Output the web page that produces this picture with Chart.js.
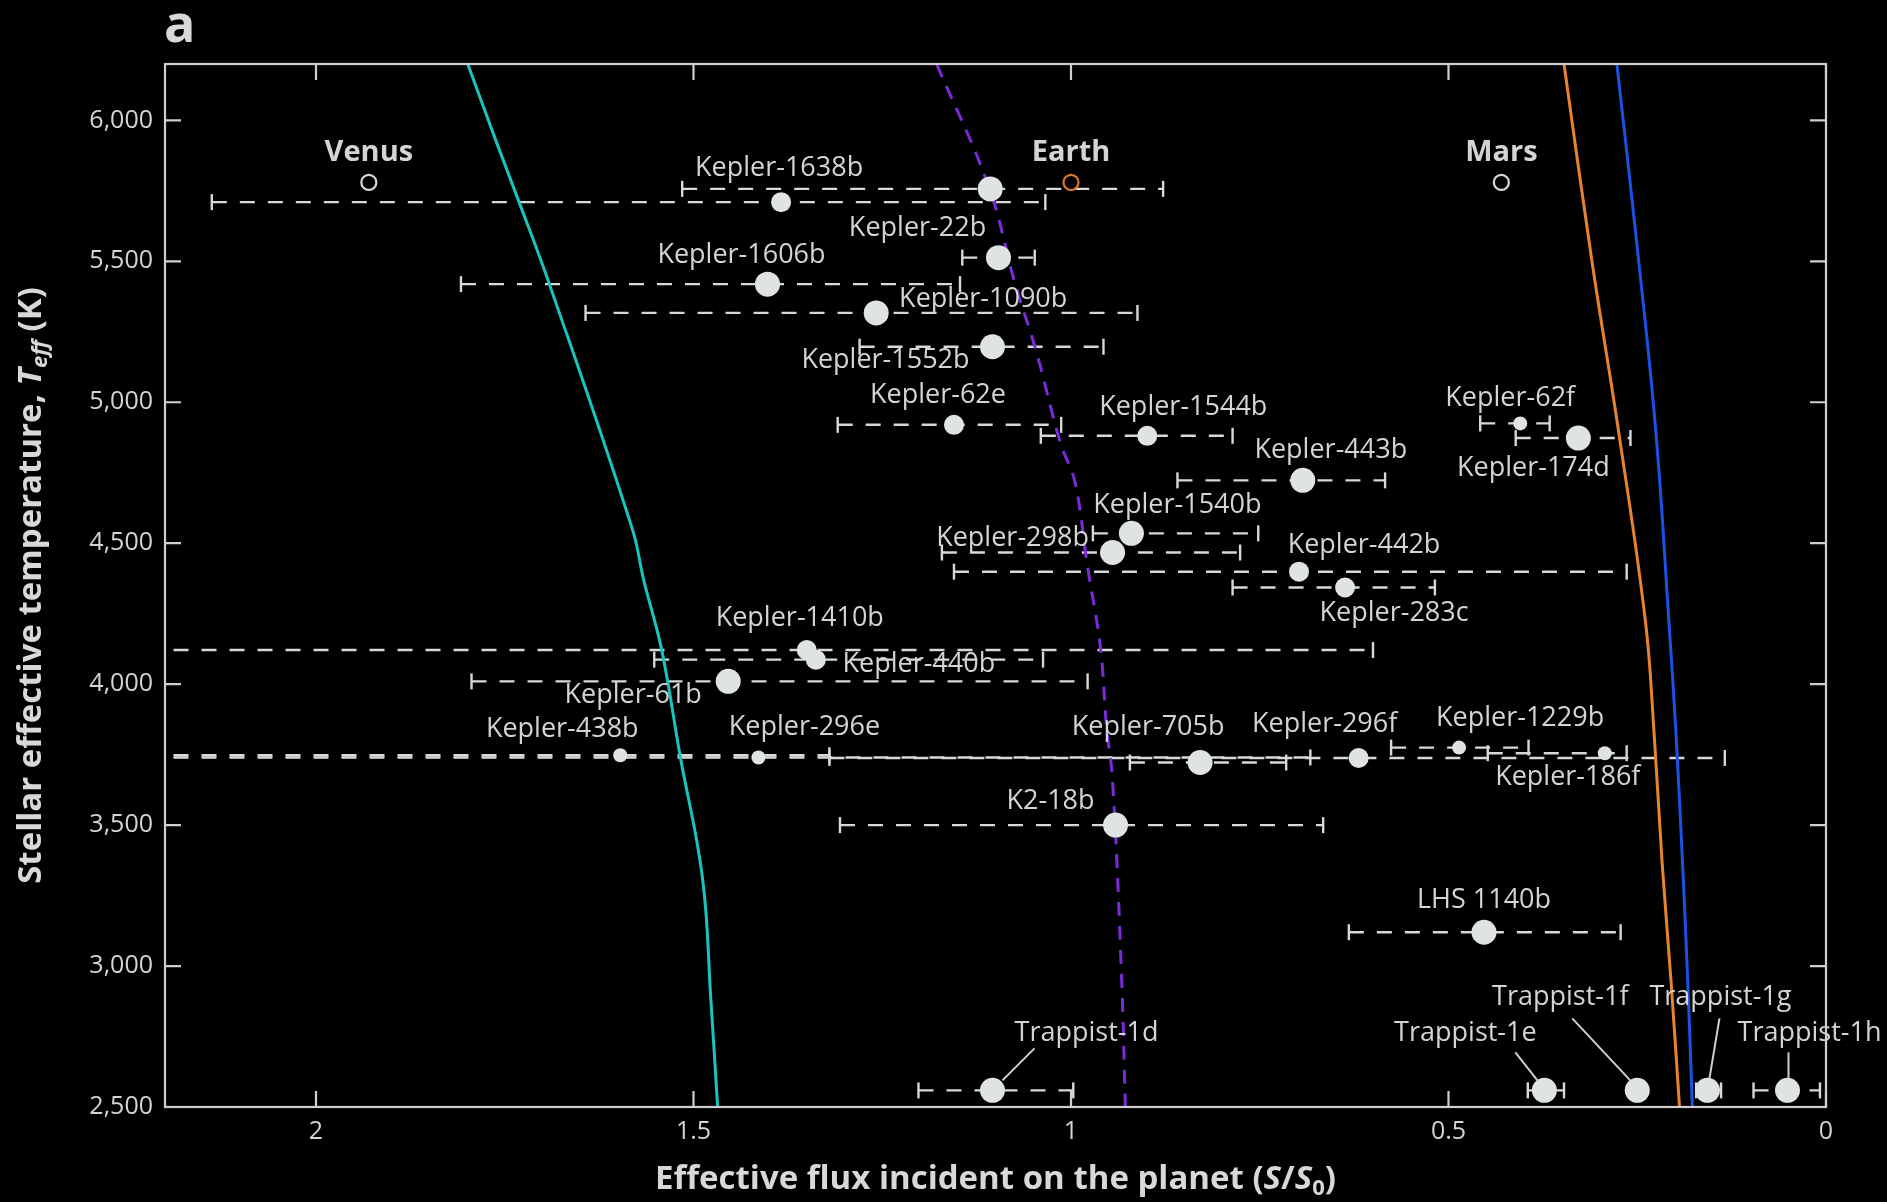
<!DOCTYPE html>
<html>
<head>
<meta charset="utf-8">
<script src="https://cdn.jsdelivr.net/npm/chart.js@4.4.1/dist/chart.umd.min.js"></script>
<style>
  html, body { margin: 0; padding: 0; background: #000; }
  #wrap { width: 1887px; height: 1202px; position: relative; }
</style>
</head>
<body>
<div id="wrap"><canvas id="hzChart"></canvas></div>
<script>
'use strict';

/* ── Data ────────────────────────────────────────────────────────────────── */

// habitable-zone limits: stellar Teff (K) vs effective flux S/S0
const recentVenusT = [6200, 5930, 5710, 5420, 4550, 4370, 4120, 3750, 3310, 2880, 2500];
const recentVenusS = [1.799, 1.762, 1.731, 1.691, 1.581, 1.566, 1.542, 1.518, 1.488, 1.477, 1.468];

const runawayT = [6200, 5765, 5420, 5180, 4855, 4720, 4415, 4130, 3850, 3660, 2960, 2500];
const runawayS = [1.178, 1.109, 1.074, 1.046, 1.014, 0.995, 0.978, 0.961, 0.953, 0.945, 0.933, 0.928];

const maxGreenhouseT = [6200, 5500, 4884, 4219, 3839, 3364, 2937, 2500];
const maxGreenhouseS = [0.347, 0.310, 0.274, 0.239, 0.228, 0.217, 0.205, 0.194];

const earlyMarsT = [6200, 5500, 4884, 4219, 3839, 3364, 2937, 2500];
const earlyMarsS = [0.277, 0.248, 0.225, 0.208, 0.199, 0.190, 0.183, 0.177];

// exoplanets
const planetNames = [
    'Kepler-1638b', '', 'Kepler-22b', 'Kepler-1606b', 'Kepler-1090b', 'Kepler-1552b',
    'Kepler-62e', 'Kepler-1544b', 'Kepler-443b', 'Kepler-62f', 'Kepler-174d',
    'Kepler-1540b', 'Kepler-298b', 'Kepler-442b', 'Kepler-283c', 'Kepler-1410b',
    'Kepler-440b', 'Kepler-61b', 'Kepler-438b', 'Kepler-296e', 'Kepler-705b',
    'Kepler-296f', 'Kepler-1229b', 'Kepler-186f', 'K2-18b', 'LHS 1140b',
    'Trappist-1d', 'Trappist-1e', 'Trappist-1f', 'Trappist-1g', 'Trappist-1h',
];
const planetFlux = [
    1.384, 1.107, 1.096, 1.402, 1.258, 1.104,
    1.155, 0.899, 0.693, 0.405, 0.328,
    0.920, 0.945, 0.698, 0.637, 1.350,
    1.338, 1.454, 1.597, 1.414, 0.829,
    0.619, 0.486, 0.293, 0.941, 0.453,
    1.104, 0.373, 0.250, 0.157, 0.051,
];
const planetTeff = [
    5710, 5757, 5513, 5419, 5317, 5197,
    4920, 4881, 4723, 4925, 4873,
    4535, 4467, 4399, 4343, 4121,
    4087, 4010, 3748, 3740, 3722,
    3738, 3775, 3755, 3500, 3120,
    2559, 2559, 2559, 2559, 2559,
];
// error bar ends (upper flux / lower flux)
const fluxErrHigh = [
    2.138, 1.515, 1.144, 1.808, 1.643, 1.280,
    1.309, 1.040, 0.859, 0.458, 0.411,
    0.971, 1.171, 1.155, 0.786, 2.300,
    1.552, 1.794, 2.300, 2.300, 0.922,
    1.320, 0.576, 0.448, 1.306, 0.632,
    1.202, 0.395, null, 0.172, 0.096,
];
const fluxErrLow = [
    1.034, 0.878, 1.048, 1.147, 0.912, 0.957,
    1.013, 0.786, 0.584, 0.366, 0.259,
    0.752, 0.776, 0.264, 0.518, 0.600,
    1.037, 0.978, 1.320, 0.683, 0.715,
    0.134, 0.394, 0.264, 0.666, 0.272,
    0.997, 0.347, null, 0.139, 0.008,
];
const planetSize = [
    'M', 'L', 'L', 'L', 'L', 'L',
    'M', 'M', 'L', 'S', 'L',
    'L', 'L', 'M', 'M', 'M',
    'M', 'L', 'S', 'S', 'L',
    'M', 'S', 'S', 'L', 'L',
    'L', 'L', 'L', 'L', 'L',
];

// solar system
const solarNames = ['Venus', 'Earth', 'Mars'];
const solarFlux = [1.93, 1.0, 0.43];
const solarTeff = [5780, 5780, 5780];

// tick values
const xTickValues = [0, 0.5, 1, 1.5, 2];
const yTickValues = [2500, 3000, 3500, 4000, 4500, 5000, 5500, 6000];

/* ── Styling ─────────────────────────────────────────────────────────────── */

const FONT = "'Open Sans', 'DejaVu Sans', sans-serif";
const FG = '#d4d4d4';
const MARKER = '#dfe3e3';
const RADIUS = { S: 7, M: 10, L: 12.5 };

// label offsets in px from the marker: [dx, dy, leader?]
const labelOffset = {
    'Kepler-1638b': [-2, -34], 'Kepler-22b': [-81, -29], 'Kepler-1606b': [-26, -29],
    'Kepler-1090b': [107, -14], 'Kepler-1552b': [-107, 14], 'Kepler-62e': [-16, -30],
    'Kepler-1544b': [36, -29], 'Kepler-443b': [28, -30], 'Kepler-62f': [-10, -25],
    'Kepler-174d': [-45, 30], 'Kepler-1540b': [46, -28], 'Kepler-298b': [-100, -14],
    'Kepler-442b': [65, -26], 'Kepler-283c': [49, 26], 'Kepler-1410b': [-7, -32],
    'Kepler-440b': [103, 5], 'Kepler-61b': [-95, 14], 'Kepler-438b': [-58, -26],
    'Kepler-296e': [46, -30], 'Kepler-705b': [-52, -35], 'Kepler-296f': [-34, -34],
    'Kepler-1229b': [61, -29], 'Kepler-186f': [-37, 24], 'K2-18b': [-65, -24],
    'LHS 1140b': [0, -32],
    'Trappist-1d': [94, -57, [10, -10, 42, -42]],
    'Trappist-1e': [-79, -57, [-29, -38, -7, -10]],
    'Trappist-1f': [-77, -93, [-65, -72, -7, -10]],
    'Trappist-1g': [13, -93, [12, -72, 2, -12]],
    'Trappist-1h': [22, -57, [1, -38, 1, -12]],
};

/* ── Plugins ─────────────────────────────────────────────────────────────── */

const errorBarPlugin = {
    id: 'errorBars',
    beforeDatasetsDraw(chart) {
        const { ctx, chartArea: a, scales: { x, y } } = chart;
        ctx.save();
        ctx.beginPath();
        ctx.rect(a.left, a.top, a.right - a.left, a.bottom - a.top);
        ctx.clip();
        ctx.strokeStyle = '#d8d8d8';
        ctx.lineWidth = 2.4;
        planetNames.forEach((_, i) => {
            if (fluxErrHigh[i] == null) return;
            const py = y.getPixelForValue(planetTeff[i]);
            const x1 = x.getPixelForValue(fluxErrHigh[i]);
            const x2 = x.getPixelForValue(fluxErrLow[i]);
            ctx.setLineDash([15, 13]);
            ctx.beginPath();
            ctx.moveTo(x1, py);
            ctx.lineTo(x2, py);
            ctx.stroke();
            ctx.setLineDash([]);
            [x1, x2].forEach(px => {
                ctx.beginPath();
                ctx.moveTo(px, py - 8);
                ctx.lineTo(px, py + 8);
                ctx.stroke();
            });
        });
        ctx.restore();
    },
};

const labelPlugin = {
    id: 'planetLabels',
    afterDatasetsDraw(chart) {
        const { ctx, scales: { x, y } } = chart;
        ctx.save();
        ctx.fillStyle = FG;
        ctx.strokeStyle = '#cfcfcf';
        ctx.lineWidth = 2;
        ctx.textAlign = 'center';
        ctx.textBaseline = 'middle';
        ctx.font = `27px ${FONT}`;
        planetNames.forEach((name, i) => {
            if (!name) return;
            const px = x.getPixelForValue(planetFlux[i]);
            const py = y.getPixelForValue(planetTeff[i]);
            const o = labelOffset[name];
            ctx.fillText(name, px + o[0], py + o[1]);
            if (o[2]) {
                const l = o[2];
                ctx.beginPath();
                ctx.moveTo(px + l[0], py + l[1]);
                ctx.lineTo(px + l[2], py + l[3]);
                ctx.stroke();
            }
        });
        ctx.font = `bold 29px ${FONT}`;
        solarNames.forEach((name, i) => {
            const px = x.getPixelForValue(solarFlux[i]);
            const py = y.getPixelForValue(solarTeff[i]);
            ctx.fillText(name, px, py - 30);
        });
        ctx.restore();
    },
};

function drawRich(ctx, parts, cx, cy) {
    const fontFor = p => `${p.italic ? 'italic ' : ''}bold ${p.sub ? 22 : 33}px ${FONT}`;
    let w = 0;
    parts.forEach(p => { ctx.font = fontFor(p); w += ctx.measureText(p.t).width; });
    let xx = cx - w / 2;
    parts.forEach(p => {
        ctx.font = fontFor(p);
        ctx.fillText(p.t, xx, cy + (p.sub ? 9 : 0));
        xx += ctx.measureText(p.t).width;
    });
}

const framePlugin = {
    id: 'frame',
    afterDraw(chart) {
        const { ctx, chartArea: a, scales: { x, y } } = chart;
        const tl = 16;
        ctx.save();
        ctx.strokeStyle = '#cfcfcf';
        ctx.lineWidth = 2.2;
        ctx.strokeRect(a.left, a.top, a.right - a.left, a.bottom - a.top);
        ctx.beginPath();
        x.ticks.forEach(t => {
            const px = x.getPixelForValue(t.value);
            ctx.moveTo(px, a.top); ctx.lineTo(px, a.top + tl);
            ctx.moveTo(px, a.bottom); ctx.lineTo(px, a.bottom - tl);
        });
        y.ticks.forEach(t => {
            const py = y.getPixelForValue(t.value);
            ctx.moveTo(a.left, py); ctx.lineTo(a.left + tl, py);
            ctx.moveTo(a.right, py); ctx.lineTo(a.right - tl, py);
        });
        ctx.stroke();

        // axis titles and panel letter
        ctx.fillStyle = '#d8d8d8';
        ctx.textAlign = 'left';
        ctx.textBaseline = 'middle';
        drawRich(ctx, [
            { t: 'Effective flux incident on the planet (' },
            { t: 'S', italic: true }, { t: '/' }, { t: 'S', italic: true },
            { t: '0', sub: true }, { t: ')' },
        ], (a.left + a.right) / 2, 1180);

        ctx.save();
        ctx.translate(32, (a.top + a.bottom) / 2);
        ctx.rotate(-Math.PI / 2);
        drawRich(ctx, [
            { t: 'Stellar effective temperature, ' },
            { t: 'T', italic: true }, { t: 'eff', italic: true, sub: true }, { t: ' (K)' },
        ], 0, 0);
        ctx.restore();

        ctx.font = `bold 52px ${FONT}`;
        ctx.textBaseline = 'alphabetic';
        ctx.fillText('a', 164, 42);
        ctx.restore();
    },
};

/* ── Chart ───────────────────────────────────────────────────────────────── */

function curve(label, ts, ss, color, dash) {
    return {
        label,
        type: 'scatter',
        showLine: true,
        data: ts.map((t, i) => ({ x: ss[i], y: t })),
        borderColor: color,
        borderWidth: 3,
        borderDash: dash || [],
        pointRadius: 0,
        tension: 0.4,
        order: 3,
    };
}

const planetPoints = planetNames.map((_, i) => ({ x: planetFlux[i], y: planetTeff[i] }));
const solarPoints = solarNames.map((_, i) => ({ x: solarFlux[i], y: solarTeff[i] }));

new Chart(document.getElementById('hzChart'), {
    type: 'scatter',
    data: {
        datasets: [
            curve('Recent Venus', recentVenusT, recentVenusS, '#19c4c0'),
            curve('Runaway greenhouse', runawayT, runawayS, '#7a2bd8', [14, 10]),
            curve('Maximum greenhouse', maxGreenhouseT, maxGreenhouseS, '#e8832e'),
            curve('Early Mars', earlyMarsT, earlyMarsS, '#1a52e6'),
            {
                label: 'Planets',
                data: planetPoints,
                pointRadius: planetSize.map(s => RADIUS[s]),
                pointBackgroundColor: MARKER,
                pointBorderWidth: 0,
                order: 1,
            },
            {
                label: 'Solar system',
                data: solarPoints,
                pointRadius: 7.5,
                pointBackgroundColor: 'rgba(0,0,0,0)',
                pointBorderColor: ['#d8d8d8', '#d9782a', '#d8d8d8'],
                pointBorderWidth: 2.2,
                order: 1,
            },
        ],
    },
    options: {
        responsive: true,
        maintainAspectRatio: false,
        animation: false,
        layout: { padding: { top: 64, right: 61, left: 0, bottom: 0 } },
        plugins: { legend: { display: false }, tooltip: { enabled: false } },
        scales: {
            x: {
                type: 'linear', min: 0, max: 2.2, reverse: true,
                grid: { display: false, drawTicks: false, tickLength: 0 },
                border: { display: false },
                ticks: {
                    stepSize: 0.5, color: FG, padding: 10, maxRotation: 0,
                    font: { family: FONT, size: 25 },
                    callback: v => String(v),
                },
                afterBuildTicks: s => { s.ticks = xTickValues.map(v => ({ value: v })); },
                afterFit: s => { s.height = 95; },
            },
            y: {
                type: 'linear', min: 2500, max: 6200,
                grid: { display: false, drawTicks: false, tickLength: 0 },
                border: { display: false },
                ticks: {
                    stepSize: 500, color: FG, padding: 12,
                    font: { family: FONT, size: 25 },
                    callback: v => v.toLocaleString('en-US'),
                },
                afterBuildTicks: s => { s.ticks = yTickValues.map(v => ({ value: v })); },
                afterFit: s => { s.width = 165; },
            },
        },
    },
    plugins: [errorBarPlugin, labelPlugin, framePlugin],
});
</script>
</body>
</html>
